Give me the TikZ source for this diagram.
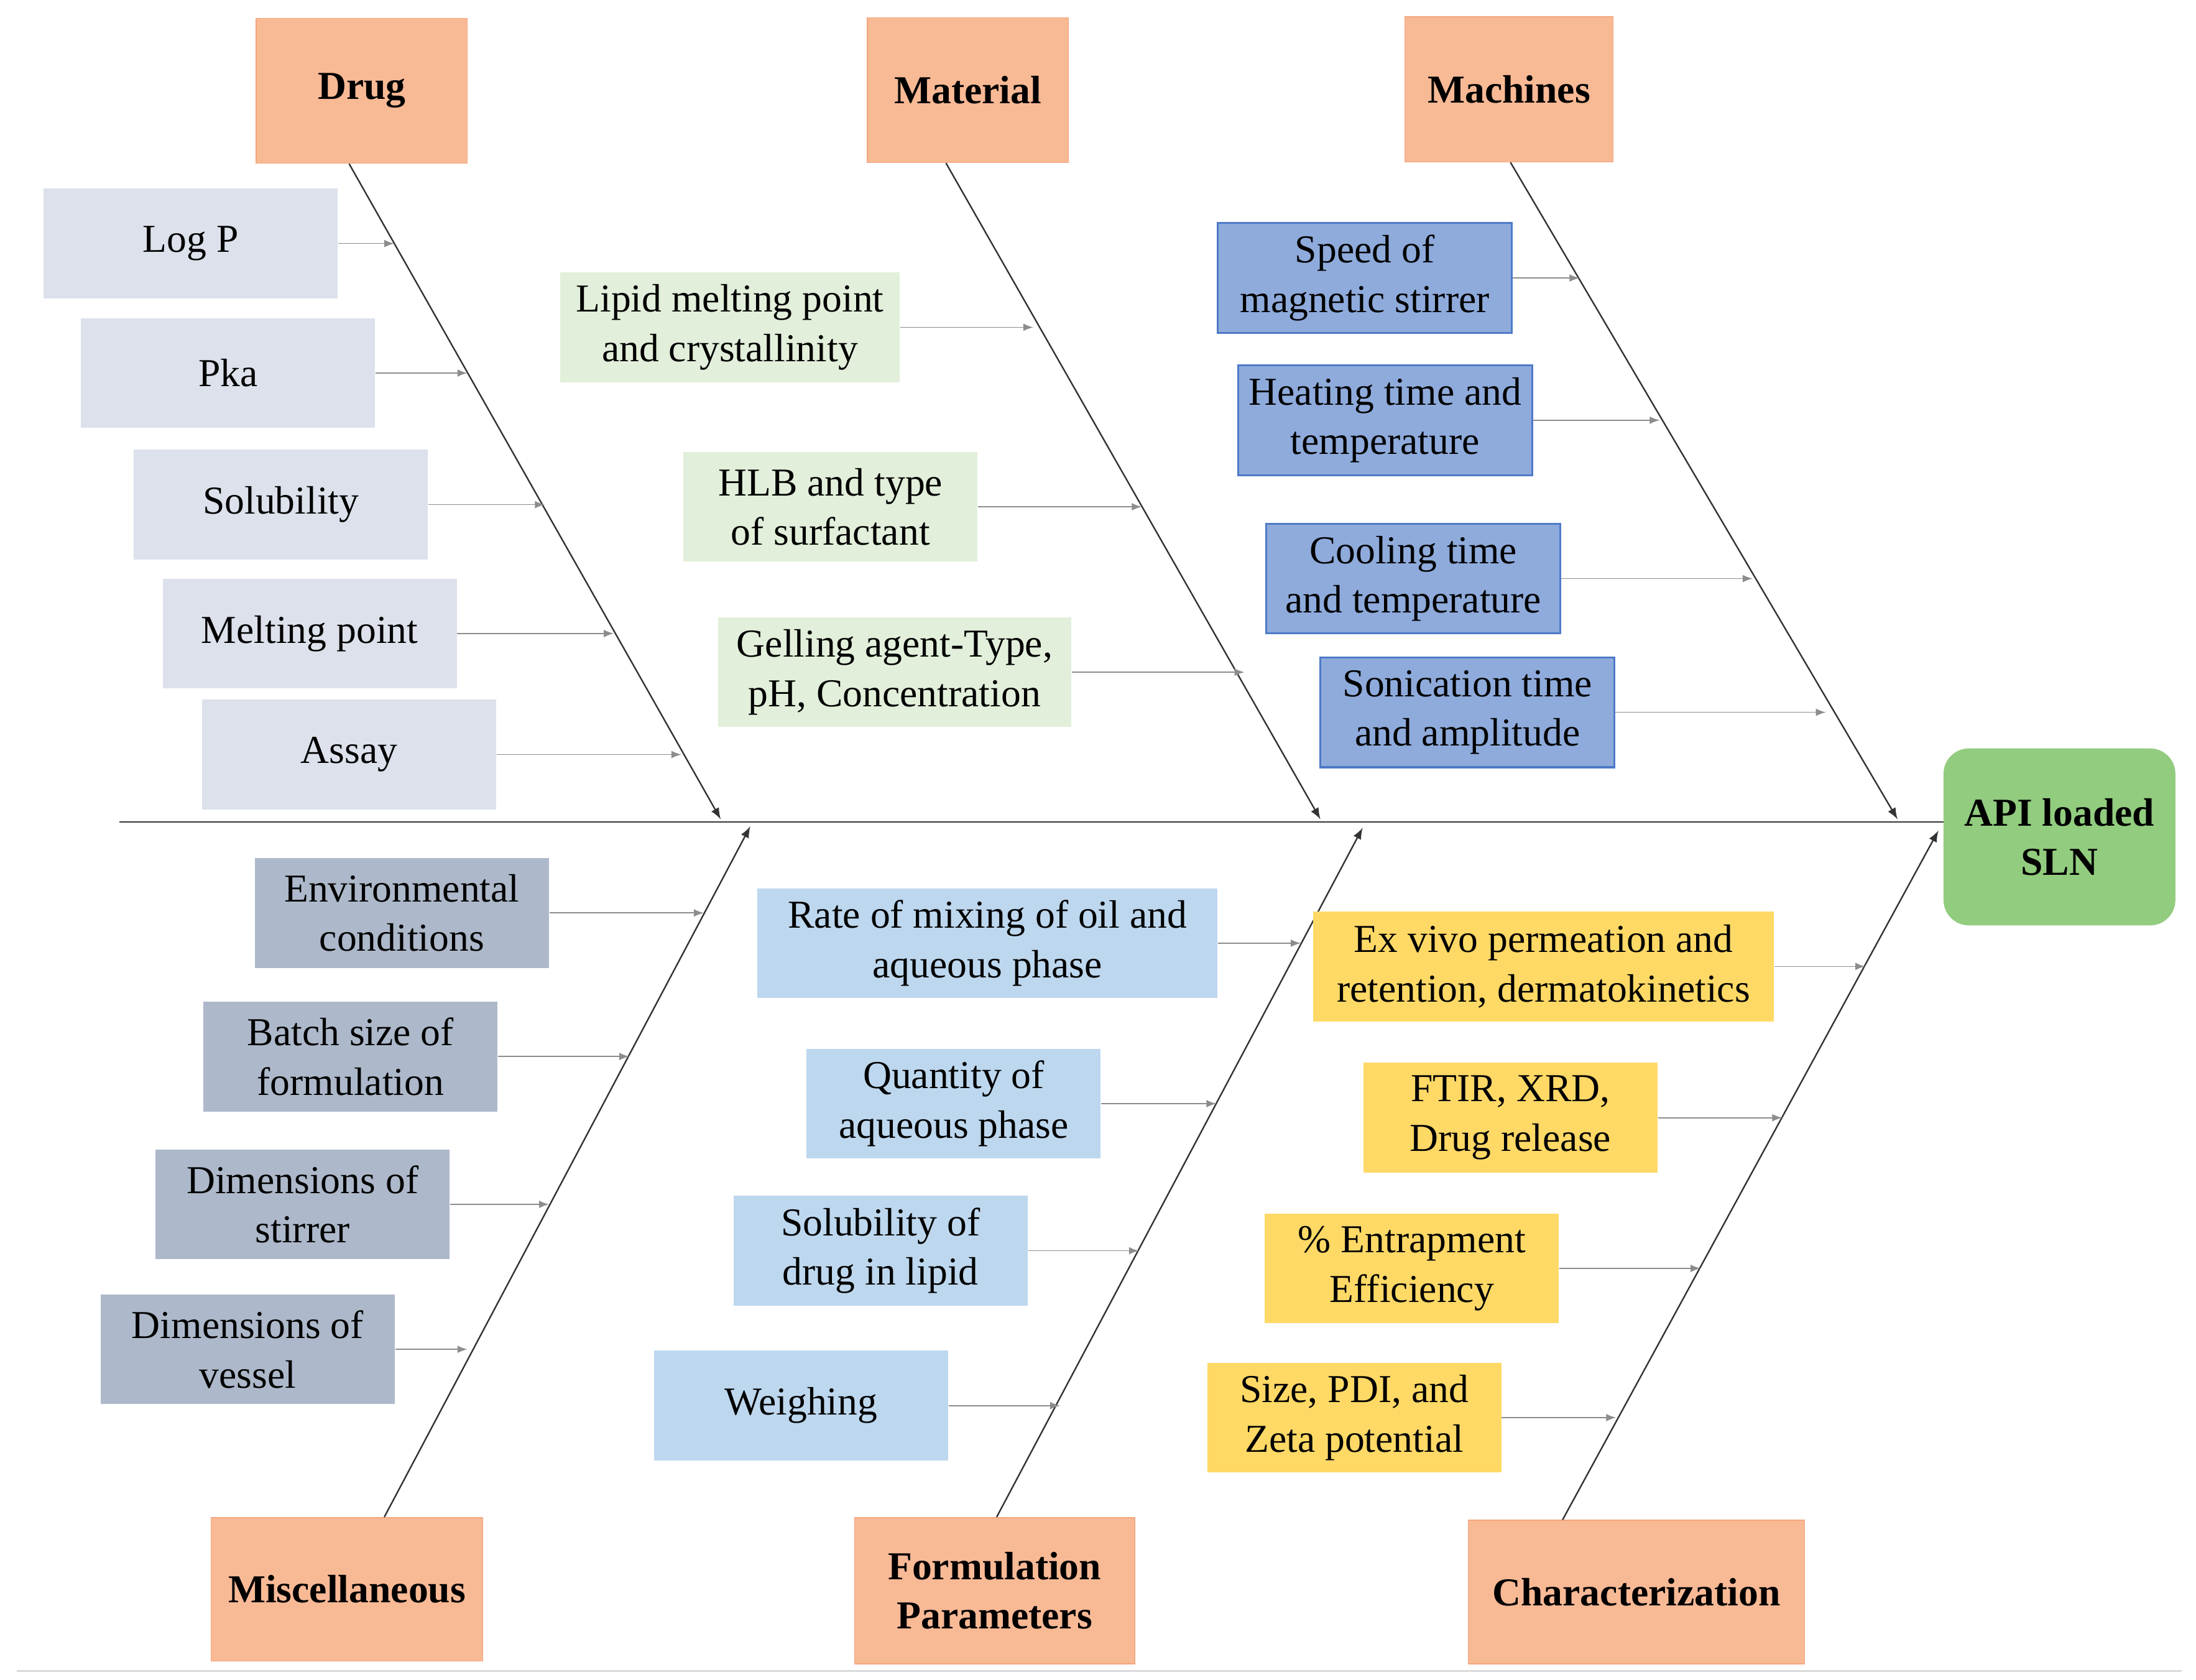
\documentclass[tikz,border=0pt]{standalone}
\usepackage{fontspec}
\setmainfont{Liberation Serif}
\usepackage{tikz}
\usetikzlibrary{calc}
\definecolor{headorange}{HTML}{F8B995}
\definecolor{headedge}{HTML}{F4A67C}
\definecolor{apigreen}{HTML}{92CC7F}
\definecolor{druggray}{HTML}{DCE1EB}
\definecolor{matgreen}{HTML}{E2EFDA}
\definecolor{machblue}{HTML}{8FABDC}
\definecolor{machedge}{HTML}{4E7AC7}
\definecolor{miscgray}{HTML}{ADB9CA}
\definecolor{formblue}{HTML}{BDD7EE}
\definecolor{charyellow}{HTML}{FFD966}
\tikzset{
    box/.style={align=center, inner sep=2pt, minimum width=4.18cm, minimum height=1.56cm,
        font=\fontsize{16}{20}\selectfont},
    head/.style={box, fill=headorange, draw=headedge, font=\fontsize{16}{20}\selectfont\bfseries},
    drugbox/.style={box, fill=druggray},
    matbox/.style={box, fill=matgreen},
    machbox/.style={box, fill=machblue, draw=machedge, thick},
    miscbox/.style={box, fill=miscgray},
    formbox/.style={box, fill=formblue},
    charbox/.style={box, fill=charyellow},
    bone/.style={draw=black!80, semithick, -latex},
    twig/.style={draw=black!45, thin, -latex}
}
\begin{document}
\begin{tikzpicture}[x=0.02cm, y=-0.02cm]
    \useasboundingbox (0,0) rectangle (1560,1193);

    % category heads
    \node[head, minimum width=3cm, minimum height=2.06cm] (drug) at (257,64.5) {Drug};
    \node[head, minimum width=2.86cm, minimum height=2.06cm] (material) at (687.5,64) {Material};
    \node[head, minimum width=2.96cm, minimum height=2.06cm] (machines) at (1072,63.5) {Machines};
    \node[head, minimum width=3.86cm, minimum height=2.04cm] (misc) at (246.5,1129) {Miscellaneous};
    \node[head, minimum width=3.98cm, minimum height=2.08cm] (formul) at (706.5,1130) {Formulation\\Parameters};
    \node[head, minimum width=4.78cm, minimum height=2.04cm] (charact) at (1162.5,1131) {Characterization};
    \node[box, fill=apigreen, draw=apigreen, rounded corners=10pt, minimum width=3.28cm,
        minimum height=2.5cm, font=\fontsize{16}{20}\selectfont\bfseries] (api) at (1463,594.5) {API loaded\\SLN};

    % spine and bone ends
    \coordinate (tail) at (85,584);
    \coordinate (drugend) at (512,582);
    \coordinate (matend) at (938,582);
    \coordinate (machend) at (1348,582);
    \coordinate (miscend) at (533,587);
    \coordinate (formend) at (968,588);
    \coordinate (charend) at (1377,590);
    \draw[black!80, semithick] (tail) -- (api.west |- tail);

    % bones
    \draw[bone] (drug.south -| 248,0) -- (drugend);
    \draw[bone] (material.south -| 672,0) -- (matend);
    \draw[bone] (machines.south -| 1073,0) -- (machend);
    \draw[bone] (misc.north -| 273,0) -- (miscend);
    \draw[bone] (formul.north -| 708,0) -- (formend);
    \draw[bone] (charact.north -| 1110,0) -- (charend);

    % Drug causes
    \node[drugbox] (logp) at (135.5,173) {Log P};
    \node[drugbox] (pka) at (162,265) {Pka};
    \node[drugbox] (solub) at (199.5,358.5) {Solubility};
    \node[drugbox] (melt) at (220,450) {Melting point};
    \node[drugbox] (assay) at (248,536) {Assay};
    \draw[twig] (logp.east) -- (logp.east -| 280,0);
    \draw[twig] (pka.east) -- (pka.east -| 332,0);
    \draw[twig] (solub.east) -- (solub.east -| 387,0);
    \draw[twig] (melt.east) -- (melt.east -| 436,0);
    \draw[twig] (assay.east) -- (assay.east -| 484,0);

    % Material causes
    \node[matbox, minimum width=4.82cm] (lipid) at (518.5,232.5) {Lipid melting point\\and crystallinity};
    \node[matbox] (hlb) at (590,360) {HLB and type\\of surfactant};
    \node[matbox, minimum width=5.02cm] (gel) at (635.5,477.5) {Gelling agent-Type,\\pH, Concentration};
    \draw[twig] (lipid.east) -- (lipid.east -| 734,0);
    \draw[twig] (hlb.east) -- (hlb.east -| 811,0);
    \draw[twig] (gel.east) -- (gel.east -| 884,0);

    % Machines causes
    \node[machbox] (speed) at (969.5,197.5) {Speed of\\magnetic stirrer};
    \node[machbox] (heat) at (984,298.5) {Heating time and\\temperature};
    \node[machbox] (cool) at (1004,411) {Cooling time\\and temperature};
    \node[machbox] (sonic) at (1042.5,506) {Sonication time\\and amplitude};
    \draw[twig] (speed.east) -- (speed.east -| 1122,0);
    \draw[twig] (heat.east) -- (heat.east -| 1179,0);
    \draw[twig] (cool.east) -- (cool.east -| 1245,0);
    \draw[twig] (sonic.east) -- (sonic.east -| 1297,0);

    % Miscellaneous causes
    \node[miscbox] (env) at (285.5,648.5) {Environmental\\conditions};
    \node[miscbox] (batch) at (249,750.5) {Batch size of\\formulation};
    \node[miscbox] (stir) at (215,855.5) {Dimensions of\\stirrer};
    \node[miscbox] (vessel) at (176,958.5) {Dimensions of\\vessel};
    \draw[twig] (env.east) -- (env.east -| 500,0);
    \draw[twig] (batch.east) -- (batch.east -| 447,0);
    \draw[twig] (stir.east) -- (stir.east -| 390,0);
    \draw[twig] (vessel.east) -- (vessel.east -| 332,0);

    % Formulation causes
    \node[formbox, minimum width=6.54cm] (rate) at (701.5,670) {Rate of mixing of oil and\\aqueous phase};
    \node[formbox] (quant) at (677.5,784) {Quantity of\\aqueous phase};
    \node[formbox] (soldrug) at (625.5,888.5) {Solubility of\\drug in lipid};
    \node[formbox] (weigh) at (569,998.5) {Weighing};
    \draw[twig] (rate.east) -- (rate.east -| 924,0);
    \draw[twig] (quant.east) -- (quant.east -| 864,0);
    \draw[twig] (soldrug.east) -- (soldrug.east -| 809,0);
    \draw[twig] (weigh.east) -- (weigh.east -| 753,0);

    % Characterization causes
    \node[charbox, minimum width=6.54cm] (exvivo) at (1096.5,686.5) {Ex vivo permeation and\\retention, dermatokinetics};
    \node[charbox] (ftir) at (1073,794) {FTIR, XRD,\\Drug release};
    \node[charbox] (entrap) at (1003,901) {\% Entrapment\\Efficiency};
    \node[charbox] (size) at (962,1007) {Size, PDI, and\\Zeta potential};
    \draw[twig] (exvivo.east) -- (exvivo.east -| 1325,0);
    \draw[twig] (ftir.east) -- (ftir.east -| 1266,0);
    \draw[twig] (entrap.east) -- (entrap.east -| 1208,0);
    \draw[twig] (size.east) -- (size.east -| 1148,0);

    % bottom rule
    \draw[black!15, thick] (12,1187) -- (1550,1187);
\end{tikzpicture}
\end{document}
